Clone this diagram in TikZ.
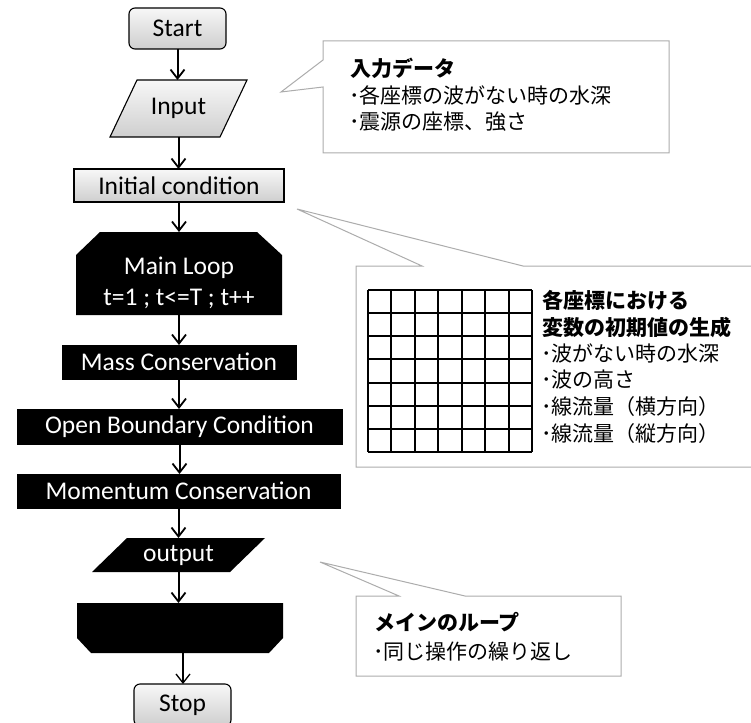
\documentclass[tikz,border=0pt]{standalone}
\usepackage{fontspec}
\setmainfont{Carlito}
\newfontfamily\jp{Noto Sans CJK JP}
\usetikzlibrary{arrows.meta}
\begin{document}
\begin{tikzpicture}[x=1pt,y=-1pt,
  every node/.style={inner sep=0pt,outer sep=0pt},
  lbl/.style={font=\fontsize{25.5}{30}\selectfont},
  wlbl/.style={lbl,text=white},
  termbox/.style={draw=black,line width=1.1pt,rounded corners=6pt,top color=gray!6,bottom color=gray!38,lbl},
  graybox/.style={draw=black,line width=1.1pt,top color=gray!6,bottom color=gray!38},
  blackbox/.style={fill=black,draw=black,line width=0.8pt,wlbl},
  flow/.style={line width=2pt,-{Straight Barb[length=9pt,width=14pt,line width=1.8pt]}},
  callout/.style={draw=gray!65,line width=1pt,fill=white},
  jpt/.style={font=\jp\fontsize{21}{24}\selectfont,anchor=west},
  jpb/.style={font=\jp\bfseries\fontsize{21}{24}\selectfont,anchor=west}
]
\useasboundingbox (0,0) rectangle (751,722);

% ---- callouts ----
\draw[callout] (323,41) -- (669,41) -- (669,153) -- (323,153) -- (323,87) -- (281,92) -- (323,60) -- cycle;
\node[jpb] (c1a) at (350,68) {入力データ};
\node[jpt] (c1b) at (349,95) {･各座標の波がない時の水深};
\node[jpt] (c1c) at (349,122) {･震源の座標、強さ};

\draw[callout] (356,266) -- (422,266) -- (297,209) -- (523,266) -- (755,266) -- (755,467) -- (356,467) -- cycle;
\foreach \i in {0,...,7}{
  \draw[line width=1.9pt] ({368+\i*23.43},290) -- ({368+\i*23.43},452);
  \draw[line width=1.9pt] (368,{290+\i*23.14}) -- (532,{290+\i*23.14});
}
\node[jpb] (c2a) at (542,300) {各座標における};
\node[jpb] (c2b) at (542,327) {変数の初期値の生成};
\node[jpt] (c2c) at (541,353) {･波がない時の水深};
\node[jpt] (c2d) at (541,380) {･波の高さ};
\node[jpt] (c2e) at (541,407) {･線流量（横方向）};
\node[jpt] (c2f) at (541,434) {･線流量（縦方向）};

\draw[callout] (356,596) -- (399,596) -- (320,562) -- (465,596) -- (621,596) -- (621,676) -- (356,676) -- cycle;
\node[jpb] (c3a) at (374,622) {メインのループ};
\node[jpt] (c3b) at (373,652) {･同じ操作の繰り返し};

% ---- flowchart ----
\node[termbox,minimum width=97pt,minimum height=41pt] (start) at (177.5,28.5) {Start};

\shade[graybox] (137,80) -- (247,80) -- (220,137) -- (110,137) -- cycle;
\node[lbl,minimum width=110pt,minimum height=57pt] (input) at (178.5,108.5) {Input};

\node[graybox,lbl,minimum width=210pt,minimum height=33pt] (init) at (179,185.5) {Initial condition};

\fill[black] (100,232) -- (257,232) -- (282,255) -- (282,315) -- (76,315) -- (76,255) -- cycle;
\node[minimum width=206pt,minimum height=83pt] (loop) at (179,273.5) {};
\node[wlbl] (loopa) at (179,268) {Main Loop};
\node[wlbl] (loopb) at (179,299) {t=1 ; t<=T ; t++};

\node[blackbox,minimum width=234pt,minimum height=34pt] (mass) at (179,362) {Mass Conservation};
\node[blackbox,minimum width=325pt,minimum height=35pt] (obc) at (179.5,426.5) {Open Boundary Condition};
\node[blackbox,minimum width=323pt,minimum height=34pt] (mom) at (178.5,491) {Momentum Conservation};

\fill[black] (127,538) -- (265,538) -- (230,572) -- (92,572) -- cycle;
\node[wlbl,minimum width=138pt,minimum height=34pt] (out) at (178.5,555) {output};

\fill[black] (77,603) -- (283,603) -- (283,638) -- (269,653) -- (91,653) -- (77,638) -- cycle;
\node[minimum width=206pt,minimum height=50pt] (lend) at (180,628) {};

\node[termbox,minimum width=97pt,minimum height=42pt] (stop) at (182.5,705) {Stop};

% ---- connectors ----
\draw[flow] (start.south) -- (start.south |- input.north);
\draw[flow] (input.south) -- (input.south |- init.north);
\draw[flow] (init.south) -- (init.south |- loop.north);
\draw[flow] (loop.south) -- (loop.south |- mass.north);
\draw[flow] (mass.south) -- (mass.south |- obc.north);
\draw[flow] (obc.south) -- (obc.south |- mom.north);
\draw[flow] (out.north |- mom.south) -- (out.north);
\draw[flow] (out.south) -- (out.south |- lend.north);
\draw[line width=1.3pt,-{Straight Barb[length=9pt,width=14pt,line width=1.3pt]}] ([xshift=3pt]lend.south) -- ([xshift=3pt]lend.south |- stop.north);
\end{tikzpicture}
\end{document}
